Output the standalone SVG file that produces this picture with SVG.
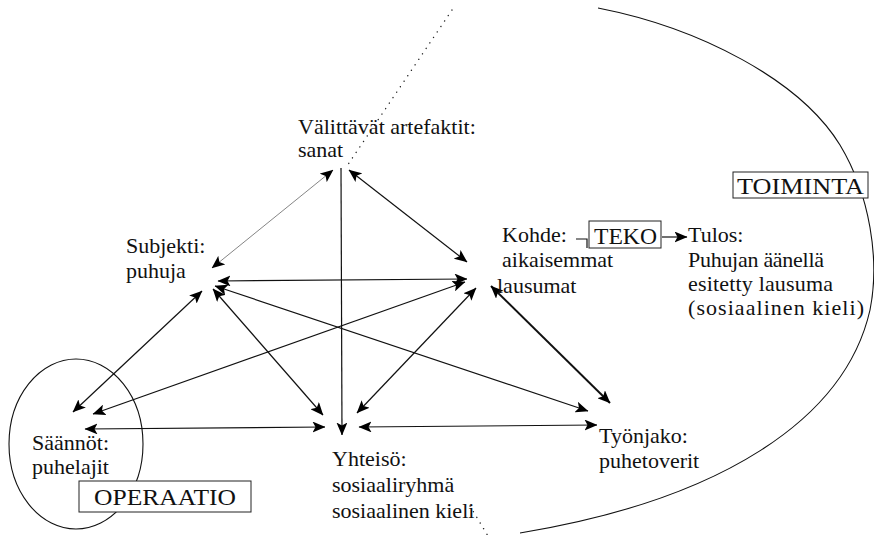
<svg xmlns="http://www.w3.org/2000/svg" width="874" height="537" viewBox="0 0 874 537">
  <style>
    text { font-family: "Liberation Serif", "Times New Roman", serif; font-size: 22px; fill: #111; }
    .caps { font-size: 24px; }
    .box { fill: #fff; stroke: #222; stroke-width: 1; }
    .outline { fill: none; stroke: #111; stroke-width: 1.1; }
    .dots { fill: none; stroke: #222; stroke-width: 1.4; stroke-dasharray: 0.1 6.5; stroke-linecap: round; }
    .ln { fill: none; stroke: #111; stroke-width: 1.2; marker-start: url(#ah); marker-end: url(#ah); }
    .thin { stroke: #777; stroke-width: 0.9; }
    .bold { stroke-width: 2; }
    .single { marker-start: none; }
  </style>
  <defs>
    <marker id="ah" viewBox="0 0 13 11" refX="12.5" refY="5.5" markerWidth="13" markerHeight="11" markerUnits="userSpaceOnUse" orient="auto-start-reverse">
      <path d="M0,0 L13,5.5 L0,11 L3,5.5 Z" fill="#000"/>
    </marker>
  </defs>

  <!-- activity (TOIMINTA) boundary and operation (OPERAATIO) boundary -->
  <g id="boundaries">
    <path class="outline" d="M598,8 C700,28 800,80 840,145 C870,195 880,260 870,310 C845,420 720,500 520,533"/>
    <ellipse class="outline" cx="76" cy="444" rx="67" ry="85"/>
    <path class="dots" d="M452,10 L347,166"/>
    <path class="dots" d="M470,506 L488,536"/>
  </g>

  <!-- connectors between the activity elements -->
  <g id="connectors">
    <line class="ln thin" x1="212" y1="268" x2="333" y2="170"/>
    <line class="ln" x1="349" y1="170" x2="467" y2="262"/>
    <line class="ln single" x1="341" y1="168" x2="342" y2="435"/>
    <line class="ln" x1="218" y1="281" x2="467" y2="279"/>
    <line class="ln" x1="213" y1="289" x2="323" y2="415"/>
    <line class="ln" x1="215" y1="286" x2="588" y2="411"/>
    <line class="ln" x1="202" y1="291" x2="73" y2="412"/>
    <line class="ln" x1="465" y1="282" x2="93" y2="414"/>
    <line class="ln" x1="476" y1="288" x2="357" y2="413"/>
    <line class="ln bold" x1="491" y1="286" x2="610" y2="403"/>
    <line class="ln" x1="85" y1="429" x2="325" y2="427"/>
    <line class="ln" x1="359" y1="427" x2="597" y2="425"/>
    <line class="ln single" x1="662" y1="237" x2="687" y2="237"/>
    <path fill="none" stroke="#111" stroke-width="1.2" d="M576,239 H587 V248"/>
  </g>

  <g id="artefakt">
    <text x="298" y="134">Välittävät artefaktit:</text>
    <text x="298" y="157">sanat</text>
  </g>

  <g id="subjekti">
    <text x="126" y="253">Subjekti:</text>
    <text x="126" y="278">puhuja</text>
  </g>

  <g id="kohde">
    <text x="502" y="242">Kohde:</text>
    <text x="502" y="267">aikaisemmat</text>
    <text x="497" y="293">lausumat</text>
  </g>

  <g id="teko">
    <rect class="box" x="589" y="221" width="72" height="27"/>
    <text class="caps" x="594" y="244" textLength="63" lengthAdjust="spacingAndGlyphs">TEKO</text>
  </g>

  <g id="tulos">
    <text x="688" y="242">Tulos:</text>
    <text x="688" y="267" textLength="136">Puhujan äänellä</text>
    <text x="688" y="291" textLength="145">esitetty lausuma</text>
    <text x="688" y="315" textLength="176">(sosiaalinen kieli)</text>
  </g>

  <g id="toiminta">
    <rect class="box" x="733" y="172" width="135" height="26"/>
    <text class="caps" x="737" y="194" textLength="127" lengthAdjust="spacingAndGlyphs">TOIMINTA</text>
  </g>

  <g id="saannot">
    <text x="32" y="450">Säännöt:</text>
    <text x="32" y="474">puhelajit</text>
  </g>

  <g id="operaatio">
    <rect class="box" x="79" y="481" width="172" height="31"/>
    <text class="caps" x="94" y="505" textLength="142" lengthAdjust="spacingAndGlyphs">OPERAATIO</text>
  </g>

  <g id="yhteiso">
    <text x="332" y="466">Yhteisö:</text>
    <text x="332" y="492">sosiaaliryhmä</text>
    <text x="332" y="518">sosiaalinen kieli</text>
  </g>

  <g id="tyonjako">
    <text x="599" y="443">Työnjako:</text>
    <text x="599" y="468">puhetoverit</text>
  </g>
</svg>
